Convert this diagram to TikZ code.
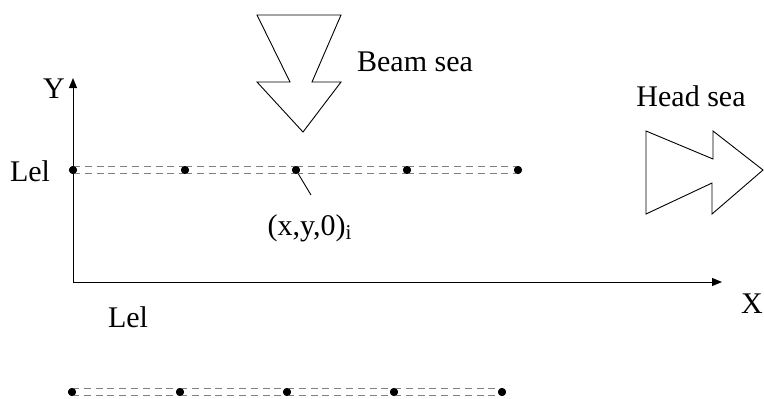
\documentclass[tikz,border=0pt]{standalone}
\usepackage{fontspec}
\setmainfont{Liberation Serif}
\usepackage{tikz}
\usetikzlibrary{arrows.meta,positioning}

\begin{document}
\begin{tikzpicture}[x=0.5pt,y=-0.5pt,
  dot/.style={circle,fill=black,inner sep=0pt,minimum size=4pt},
  lbl/.style={font=\fontsize{15}{17}\selectfont,inner sep=1pt},
  rail/.style={draw=gray,dashed,dash pattern=on 3.5pt off 2.4pt,line width=0.55pt},
  axis/.style={draw=black,line width=0.5pt,-{Triangle[length=5pt,width=4pt]}},
  wave/.style={draw=black,line width=0.45pt,fill=white,line join=miter},
]
  \useasboundingbox (0,0) rectangle (764,398);

  %% axes
  \coordinate (O) at (73,282);
  \coordinate (Xend) at (722,282);
  \coordinate (Yend) at (73,78);
  \draw[axis] (O) -- (Xend);
  \draw[axis] (O) -- (Yend);
  \node[lbl] (xlab) at (752,304) {X};
  \node[lbl] (ylab) at (54,89) {Y};

  %% top row of points
  \foreach \i/\x in {1/73,2/185,3/296,4/407,5/518}
    \node[dot] (t\i) at (\x,170) {};
  %% bottom row of points
  \foreach \i/\x in {1/72,2/180,3/287,4/394,5/502}
    \node[dot] (b\i) at (\x,392) {};

  \foreach \r in {t,b}{%
    \foreach \i/\j in {1/2,2/3,3/4,4/5}{%
      \draw[rail] ([yshift=1.8pt]\r\i.center) -- ([yshift=1.8pt]\r\j.center);
      \draw[rail] ([yshift=-1.6pt]\r\i.center) -- ([yshift=-1.6pt]\r\j.center);}}
  \foreach \r in {t,b}
    \foreach \i in {1,...,5}
      \node[dot] at (\r\i) {};

  \node[lbl] (lel1) at (30,171) {Lel};
  \node[lbl] (lel2) at (128,317) {Lel};

  %% point label
  \coordinate (tick) at (311,195);
  \draw[line width=0.45pt] (t3) -- (tick);
  \node[lbl] (pt) at (310,228) {(x,y,0)\textsubscript{i}};

  %% beam sea
  \draw[wave] (257,15) -- (341,15) -- (312,82) -- (341,82) -- (303,132)
    -- (257,82) -- (290,82) -- cycle;
  \node[lbl] (beam) at (415,62) {Beam sea};

  %% head sea
  \draw[wave] (646,131) -- (713,159) -- (713,131) -- (763,170)
    -- (712,214) -- (712,183) -- (646,214) -- cycle;
  \node[lbl] (head) at (691,96) {Head sea};
\end{tikzpicture}
\end{document}
